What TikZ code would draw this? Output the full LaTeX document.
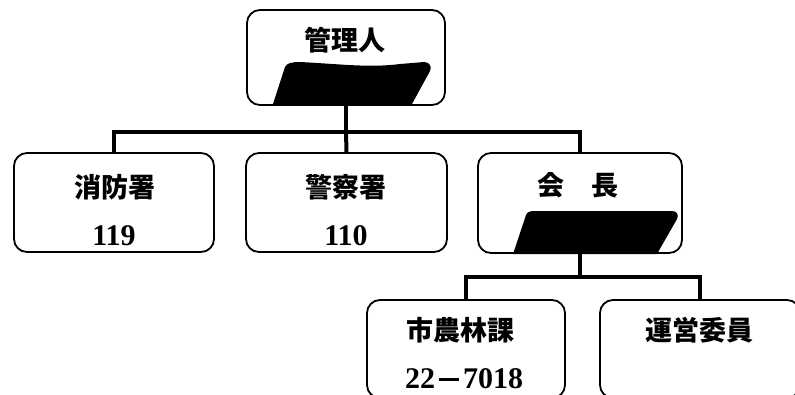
\documentclass[tikz,border=0pt]{standalone}
\usepackage{fontspec}
\setmainfont{Liberation Serif}
\newfontfamily\cjk{Noto Sans CJK JP}
\begin{document}
\begin{tikzpicture}[x=1pt,y=-1pt,
  box/.style={draw, line width=1.8pt, rounded corners=13pt, inner sep=0pt},
  conn/.style={line width=4pt},
  jp/.style={font=\cjk\bfseries\fontsize{27}{30}\selectfont, inner sep=0pt},
  num/.style={font=\bfseries\fontsize{30}{32}\selectfont, inner sep=0pt},
  blot/.style={fill=black, draw=none}]
\useasboundingbox (0,0) rectangle (795,394);
\clip (0,0) rectangle (795,394);
% boxes
\node[box, minimum width=198pt, minimum height=95pt] (top) at (346,57.5) {};
\node[box, minimum width=200pt, minimum height=99pt] (b1) at (114,202.5) {};
\node[box, minimum width=201pt, minimum height=99pt] (b2) at (346.5,202.5) {};
\node[box, minimum width=204pt, minimum height=100pt] (b3) at (580,203) {};
\node[box, minimum width=198pt, minimum height=98pt] (b4) at (466,349) {};
\node[box, minimum width=200pt, minimum height=98pt] (b5) at (700,349) {};
% black blots
\path[blot] (273,104) -- (285,67) .. controls (287,63) and (292,62) .. (300,62)
  .. controls (340,64) and (370,68) .. (400,64) -- (424,62)
  .. controls (430,62) and (432,67) .. (430,71) -- (412,104) -- cycle;
\path[blot] (513,254) -- (526,215) .. controls (527,212) and (530,211) .. (535,211)
  -- (672,211) .. controls (677,211) and (679,215) .. (677,219) -- (657,254) -- cycle;
% connectors
\coordinate (j1) at (346,132);
\coordinate (j2) at (580,277);
\draw[conn] (top.south) -- (j1);
\draw[conn] (b1.north) |- (j1) -| (b3.north);
\draw[conn] (j1) -- (b2.north);
\draw[conn] (b3.south) -- (j2);
\draw[conn] (b4.north) |- (j2) -| (b5.north);
% texts
\node[jp] (t0) at (345,40) {管理人};
\node[jp] (t1) at (115,187) {消防署};
\node[num] (n1) at (114,236) {119};
\node[jp] (t2) at (346,187) {警察署};
\node[num] (n2) at (346,236) {110};
\node[jp] (t3) at (578,185) {会\hspace{27pt}長};
\node[jp] (t4) at (460,330) {市農林課};
\node[num] (n4) at (464,379) {22\hspace{4pt}\raisebox{8pt}{\rule{20pt}{2.6pt}}\hspace{4pt}7018};
\node[jp] (t5) at (699,330) {運営委員};
\end{tikzpicture}
\end{document}
